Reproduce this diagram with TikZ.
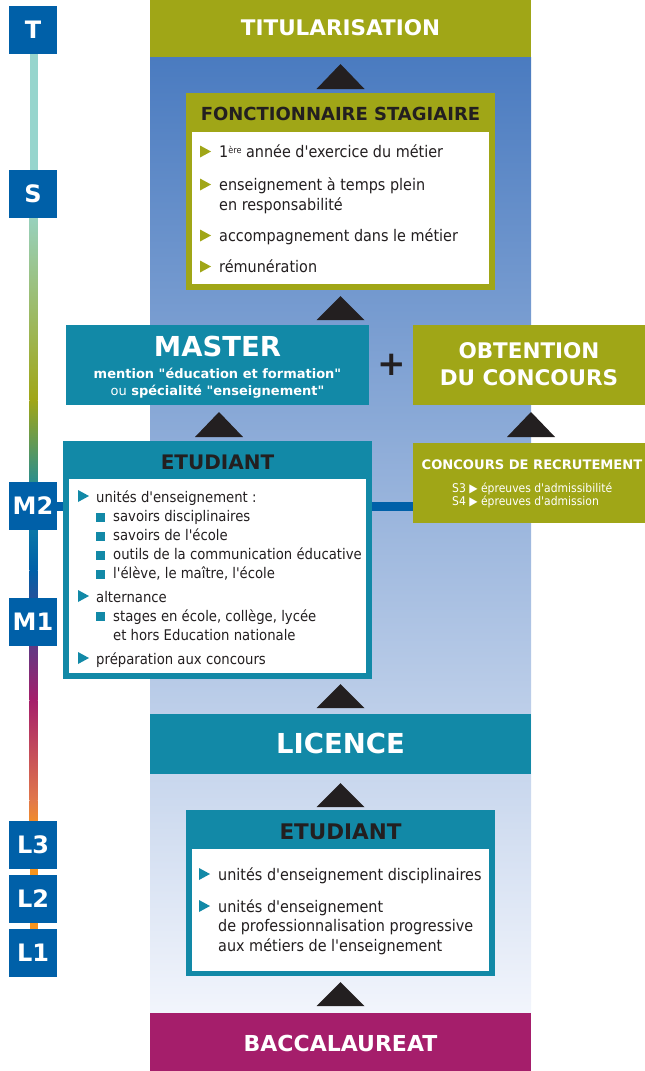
\documentclass[tikz,border=0pt]{standalone}
\usepackage{fontspec}
\setmainfont{DejaVu Sans}[Ligatures=TeXOff]
\newfontfamily\tah{DejaVu Sans}[Ligatures=TeXOff, FakeStretch=0.9]
\usetikzlibrary{calc}
\definecolor{olv}{RGB}{160,166,23}
\definecolor{tealc}{RGB}{18,137,167}
\definecolor{blu}{RGB}{0,96,168}
\definecolor{mag}{RGB}{165,30,107}
\definecolor{ink}{RGB}{35,31,32}
\definecolor{bgtop}{RGB}{74,123,192}
\definecolor{bgmid}{RGB}{152,174,219}
\definecolor{bgbot}{RGB}{242,245,252}
\definecolor{aqua}{RGB}{151,213,205}
\definecolor{orng}{RGB}{247,148,29}
\definecolor{salm}{RGB}{225,120,75}
\tikzset{
  blk/.style={inner sep=0pt, outer sep=0pt, draw=none},
  hdw/.style={anchor=base, text=white, inner sep=0pt, font=\bfseries\fontsize{#1}{#1}\selectfont},
  hdk/.style={anchor=base, text=ink, inner sep=0pt, font=\bfseries\fontsize{#1}{#1}\selectfont},
  itm/.style={anchor=base west, text=ink, inner sep=0pt, font=\tah\fontsize{#1}{#1}\selectfont},
  tlbox/.style={fill=blu, minimum width=48pt, minimum height=48pt, inner sep=0pt, outer sep=0pt, text=white, font=\bfseries\fontsize{24}{24}\selectfont},
  arrtri/.style={fill=ink},
}
\newcommand\bultri[3]{\fill[#1] (#2,#3-6) -- (#2+11,#3) -- (#2,#3+6) -- cycle;}
\newcommand\bulsq[2]{\fill[tealc] (#1,#2-4.5) rectangle (#1+9,#2+4.5);}
\newcommand\uptri[3]{\fill[arrtri] (#1-24,#3) -- (#1,#2) -- (#1+24,#3) -- cycle;}
\begin{document}
\begin{tikzpicture}[x=1pt,y=-1pt]
\useasboundingbox (0,0) rectangle (645,1071);
% background column
\shade[top color=bgtop, middle color=bgmid, bottom color=bgbot] (150,57) rectangle (531,1013);
% timeline bar
\fill[aqua] (29.5,54) rectangle (37.5,200);
\shade[top color=aqua, bottom color=olv] (29.5,200) rectangle (37.5,400);
\shade[top color=olv, bottom color=tealc] (29.5,400) rectangle (37.5,500);
\shade[top color=tealc, bottom color=blu] (29.5,500) rectangle (37.5,570);
\shade[top color=blu, bottom color=mag] (29.5,570) rectangle (37.5,700);
\shade[top color=mag, bottom color=salm] (29.5,700) rectangle (37.5,800);
\shade[top color=salm, bottom color=orng] (29.5,800) rectangle (37.5,830);
\fill[orng] (29.5,830) rectangle (37.5,930);
% timeline labels
\node[tlbox] (tT) at (33,30) {T};
\node[tlbox] (tS) at (33,194) {S};
\node[tlbox] (tM2) at (33,506) {M2};
\node[tlbox] (tM1) at (33,622) {M1};
\node[tlbox] (tL3) at (33,845) {L3};
\node[tlbox] (tL2) at (33,899) {L2};
\node[tlbox] (tL1) at (33,953) {L1};
% top
\node[blk, fill=olv, minimum width=381pt, minimum height=57pt] (titul) at (340.5,28.5) {};
\node[hdw=21.5] (titult) at (340.5,35) {TITULARISATION};
% fonctionnaire stagiaire
\node[blk, fill=olv, minimum width=309pt, minimum height=197pt] (fonct) at (340.5,191.5) {};
\node[blk, fill=white, minimum width=297pt, minimum height=152pt] (fonctin) at (340.5,208) {};
\node[hdk=18] (fonctt) at (340.5,120) {FONCTIONNAIRE STAGIAIRE};
\bultri{olv}{200}{151.5}
\node[itm=16] (f1) at (219,157) {1\raisebox{3.5pt}{\fontsize{9}{9}\selectfont ère} année d'exercice du métier};
\bultri{olv}{200}{184.5}
\node[itm=16] (f2) at (219,190) {enseignement à temps plein};
\node[itm=16] (f3) at (219,210) {en responsabilité};
\bultri{olv}{200}{235.5}
\node[itm=16] (f4) at (219,241) {accompagnement dans le métier};
\bultri{olv}{200}{266.5}
\node[itm=16] (f5) at (219,272) {rémunération};
% master + obtention
\node[blk, fill=tealc, minimum width=303pt, minimum height=80pt] (master) at (217.5,365) {};
\node[hdw=27.5] (mastert) at (217.5,356) {MASTER};
\node[hdw=13] (master2) at (217.5,378) {mention "éducation et formation"};
\node[hdw=13] (master3) at (217.5,395) {{\mdseries ou} spécialité "enseignement"};
\node[anchor=center, text=ink, inner sep=0pt, font=\bfseries\fontsize{34}{34}\selectfont] (plus) at (392,365) {+};
\node[blk, fill=olv, minimum width=232pt, minimum height=80pt] (obt) at (529,365) {};
\node[hdw=21.5] (obt1) at (529,358) {OBTENTION};
\node[hdw=21.5] (obt2) at (529,385) {DU CONCOURS};
% concours de recrutement
\node[blk, fill=olv, minimum width=232pt, minimum height=80pt] (conc) at (529,483) {};
\node[hdw=13.1] (conct) at (532,469) {CONCOURS DE RECRUTEMENT};
\node[itm=12, text=white] (conc1) at (452,492) {S3 ▶ épreuves d'admissibilité};
\node[itm=12, text=white] (conc2) at (452,505) {S4 ▶ épreuves d'admission};
% connecting line
\draw[blu, line width=9pt] (tM2.east) -- (tM2.east -| conc.west);
% etudiant master
\node[blk, fill=tealc, minimum width=309pt, minimum height=238pt] (etm) at (217.5,560) {};
\node[blk, fill=white, minimum width=297pt, minimum height=194pt] (etmin) at (217.5,576) {};
\node[hdk=20] (etmt) at (217.5,469) {ETUDIANT};
\bultri{tealc}{78}{496}
\node[itm=14.7] (e1) at (96,502) {unités d'enseignement :};
\bulsq{96}{517}
\node[itm=14.7] (e2) at (113,521) {savoirs disciplinaires};
\bulsq{96}{536}
\node[itm=14.7] (e3) at (113,540) {savoirs de l'école};
\bulsq{96}{555}
\node[itm=14.7] (e4) at (113,559) {outils de la communication éducative};
\bulsq{96}{574}
\node[itm=14.7] (e5) at (113,578) {l'élève, le maître, l'école};
\bultri{tealc}{78}{596}
\node[itm=14.7] (e6) at (96,602) {alternance};
\bulsq{96}{616}
\node[itm=14.7] (e7) at (113,621) {stages en école, collège, lycée};
\node[itm=14.7] (e8) at (113,640) {et hors Education nationale};
\bultri{tealc}{78}{658}
\node[itm=14.7] (e9) at (96,664) {préparation aux concours};
% licence
\node[blk, fill=tealc, minimum width=381pt, minimum height=60pt] (lic) at (340.5,744) {};
\node[hdw=27.5] (lict) at (340.5,753) {LICENCE};
% etudiant licence
\node[blk, fill=tealc, minimum width=309pt, minimum height=166pt] (etl) at (340.5,893) {};
\node[blk, fill=white, minimum width=297pt, minimum height=122pt] (etlin) at (340.5,910) {};
\node[hdk=21.5] (etlt) at (340.5,839) {ETUDIANT};
\bultri{tealc}{199}{874}
\node[itm=16] (l1) at (218,880) {unités d'enseignement disciplinaires};
\bultri{tealc}{199}{906}
\node[itm=16] (l2) at (218,912) {unités d'enseignement};
\node[itm=16] (l3) at (218,931) {de professionnalisation progressive};
\node[itm=16] (l4) at (218,951) {aux métiers de l'enseignement};
% baccalaureat
\node[blk, fill=mag, minimum width=381pt, minimum height=58pt] (bac) at (340.5,1042) {};
\node[hdw=22] (bact) at (340.5,1051) {BACCALAUREAT};
% arrow triangles
\uptri{340.5}{64}{89}
\uptri{340.5}{296}{320}
\uptri{219}{412}{437}
\uptri{531}{412}{437}
\uptri{340.5}{684}{708}
\uptri{340.5}{783}{807}
\uptri{340.5}{982}{1006}
\end{tikzpicture}
\end{document}
